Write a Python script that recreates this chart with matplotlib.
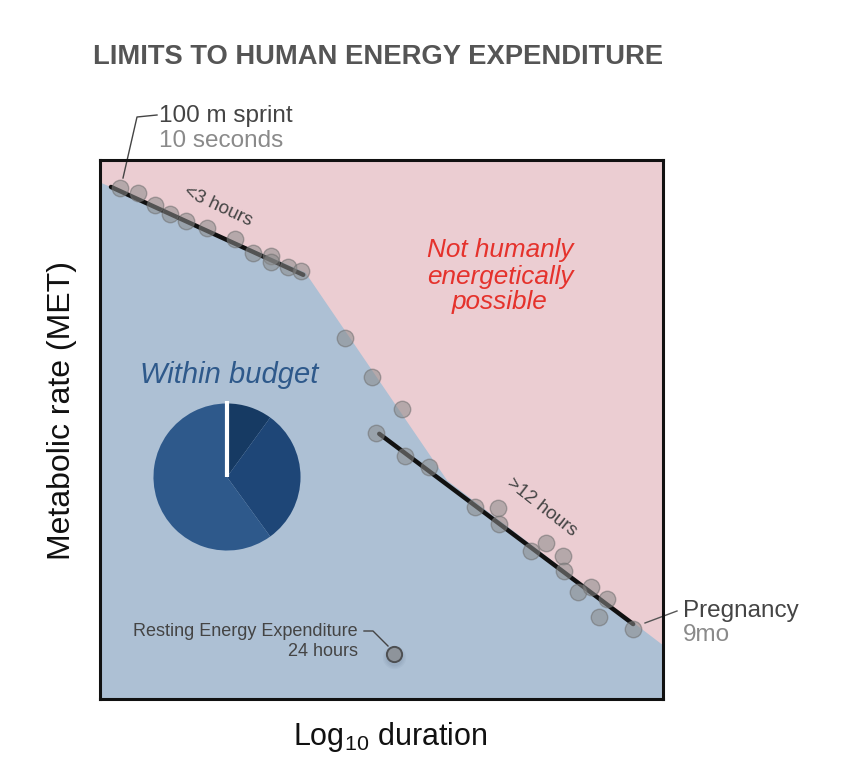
import matplotlib
matplotlib.use("Agg")
import matplotlib.pyplot as plt
import numpy as np

plt.rcParams['font.family'] = ['Liberation Sans', 'DejaVu Sans']
plt.rcParams['mathtext.fontset'] = 'custom'
plt.rcParams['mathtext.rm'] = 'Liberation Sans'

# data (arbitrary units: x = log duration 0..100, y = MET 0..100)
boundary_x = [0, 36.4, 61.6, 100]
boundary_y = [95.9, 79.2, 40.6, 10.0]

short_x = [3.55, 6.75, 9.77, 12.43, 15.28, 19.0, 24.0, 27.2, 30.4, 30.4, 33.4, 35.7]
short_y = [94.8, 93.9, 91.7, 90.0, 88.7, 87.4, 85.3, 82.7, 82.2, 81.1, 80.1, 79.4]

long_x = [43.5, 48.3, 53.6, 49.0, 54.2, 58.4, 66.6, 70.7, 70.9, 76.6, 79.2, 82.2,
          82.4, 84.9, 87.2, 90.1, 88.6, 94.7]
long_y = [67.0, 59.7, 53.8, 49.4, 45.1, 43.0, 35.6, 35.4, 32.5, 27.5, 28.9, 26.5,
          23.7, 19.9, 20.8, 18.6, 15.2, 13.0]

fit_short_x = [1.95, 36.1]
fit_short_y = [95.0, 78.7]
fit_long_x = [49.6, 94.7]
fit_long_y = [49.2, 13.9]

rest_x = [52.2]
rest_y = [8.3]

pie_shares = [10, 30, 60]
pie_colors = ['#163a63', '#1e4677', '#2e598b']

pink = '#ebcdd2'
blue = '#adc0d4'

W, H = 851, 767
fig = plt.figure(figsize=(W / 100, H / 100), dpi=100)
ax = fig.add_axes([100 / W, (H - 699) / H, 563 / W, 539 / H])
ax.set_xlim(0, 100)
ax.set_ylim(0, 100)
ax.set_facecolor(pink)
ax.fill_between(boundary_x, boundary_y, 0, color=blue, lw=0, zorder=1)
for s in ax.spines.values():
    s.set_linewidth(2.2)
    s.set_color('#111111')
    s.set_zorder(10)
ax.set_xticks([])
ax.set_yticks([])

ax.plot(fit_short_x, fit_short_y, color='#111111', lw=3.2, solid_capstyle='round', zorder=3)
ax.plot(fit_long_x, fit_long_y, color='#111111', lw=3.2, solid_capstyle='round', zorder=3)
ax.scatter(short_x + long_x, short_y + long_y, s=140, facecolor='#8a8a8a',
           edgecolor='#6f6f6f', linewidth=1.0, alpha=0.55, zorder=4)

# resting point with soft shadow
for k, a in enumerate([0.06, 0.06, 0.08]):
    ax.scatter(rest_x, [rest_y[0] - 0.6], s=280 - 60 * k, color='#50607a', alpha=a, lw=0, zorder=4)
ax.scatter(rest_x, rest_y, s=120, facecolor='#8e949b', edgecolor='#4d4f52', linewidth=1.4, zorder=5)

ax.text(21.0, 91.3, '<3 hours', rotation=-25, ha='center', va='center',
        fontsize=13.5, color='#444444', zorder=6)
ax.text(78.5, 35.6, '>12 hours', rotation=-38, ha='center', va='center',
        fontsize=13.5, color='#444444', zorder=6)


def px(x, y):
    return ((x - 100) / 5.63, (699 - y) / 5.39)


red = '#e5322c'
for txt, yy in [('Not humanly', 257), ('energetically', 284), ('possible', 309)]:
    ax.text(*px(500, yy), txt, ha='center', va='baseline', fontsize=18.8,
            style='italic', color=red)

ax.text(*px(229, 375), 'Within budget', ha='center', va='center', fontsize=21,
        style='italic', color='#2e598b')

# leader lines
lx, ly = zip(px(123, 178), px(137, 117), px(157, 115))
ax.plot(lx, ly, color='#444444', lw=1.0, clip_on=False, zorder=6)
ax.text(*px(159, 116), '100 m sprint', ha='left', va='center', fontsize=17.5, color='#444444')
ax.text(*px(159, 141), '10 seconds', ha='left', va='center', fontsize=17.5, color='#8a8a8a')

lx, ly = zip(px(645, 623), px(677, 611))
ax.plot(lx, ly, color='#555555', lw=1.0, clip_on=False, zorder=6)
ax.text(*px(683, 611), 'Pregnancy', ha='left', va='center', fontsize=17.5, color='#444444')
ax.text(*px(683, 635), '9mo', ha='left', va='center', fontsize=17.5, color='#8a8a8a')

lx, ly = zip(px(364, 631), px(373, 631), px(388, 646))
ax.plot(lx, ly, color='#444444', lw=1.0, zorder=6)
ax.text(*px(358, 631), 'Resting Energy Expenditure', ha='right', va='center',
        fontsize=13, color='#444444')
ax.text(*px(358, 652), '24 hours', ha='right', va='center', fontsize=13, color='#444444')

# pie inset
cx, cy, r = 227, 477, 75
pax = fig.add_axes([(cx - r) / W, (H - cy - r) / H, 2 * r / W, 2 * r / H])
pax.pie(pie_shares, colors=pie_colors, startangle=90, counterclock=False,
        wedgeprops=dict(linewidth=0))
pax.plot([0, 0], [0, 1.03], color='white', lw=3, solid_capstyle='butt', clip_on=False)
pax.set_xlim(-1.02, 1.02)
pax.set_ylim(-1.02, 1.02)
pax.axis('off')

fig.text(93 / W, 1 - 57 / H, 'LIMITS TO HUMAN ENERGY EXPENDITURE', ha='left', va='center',
         fontsize=19.7, fontweight='bold', color='#555555')
fig.text(62 / W, 1 - 410 / H, 'Metabolic rate (MET)', rotation=90, ha='center', va='center',
         fontsize=23, color='#111111')
fig.text(390 / W, 1 - 737 / H, r'Log$_{\mathrm{10}}$ duration', ha='center', va='center',
         fontsize=22, color='#111111')

fig.savefig('out.png', dpi=100, facecolor='white')
